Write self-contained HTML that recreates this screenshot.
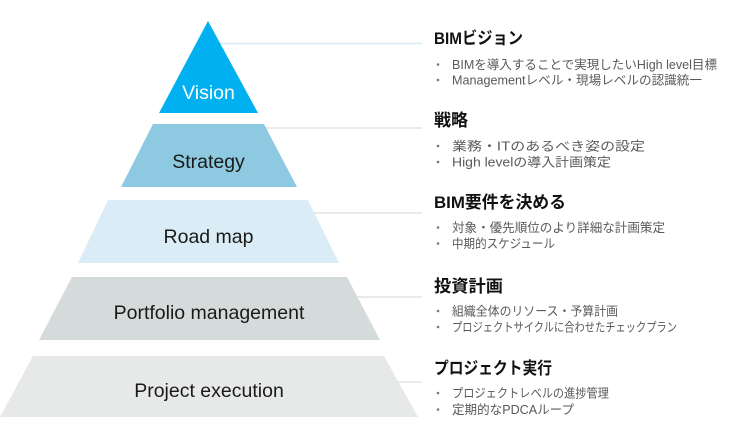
<!DOCTYPE html>
<html>
<head>
<meta charset="utf-8">
<style>
html,body{margin:0;padding:0;background:#fff;}
body{width:729px;height:431px;overflow:hidden;}
svg{display:block;}
text{font-family:"Liberation Sans","Noto Sans CJK JP",sans-serif;}
.lbl{font-size:19.5px;fill:#1a1a1a;text-anchor:middle;}
.hd{font-size:17px;font-weight:bold;fill:#111;}
.bt{font-size:12.5px;fill:#595959;}
</style>
</head>
<body>
<svg width="729" height="431" viewBox="0 0 729 431" xmlns="http://www.w3.org/2000/svg">
  <!-- connector lines -->
  <line x1="210" y1="43.5" x2="422" y2="43.5" stroke="#d3ebf8" stroke-width="1.6"/>
  <line x1="250" y1="128" x2="422" y2="128" stroke="#dedede" stroke-width="1.3"/>
  <line x1="300" y1="213" x2="422" y2="213" stroke="#dedede" stroke-width="1.3"/>
  <line x1="340" y1="297" x2="422" y2="297" stroke="#dedede" stroke-width="1.3"/>
  <line x1="380" y1="382" x2="422" y2="382" stroke="#dedede" stroke-width="1.3"/>

  <!-- pyramid -->
  <polygon points="208,21 258,113 159,113" fill="#00b0f0"/>
  <polygon points="153,124 264,124 297,187 121,187" fill="#8dc9e0"/>
  <polygon points="108,200 308,200 339,263 78,263" fill="#daedf7"/>
  <polygon points="72,277 347,277 380,340 39,340" fill="#d5dbdb"/>
  <polygon points="33,356 384,356 418,417 0,417" fill="#e7e9e9"/>

  <text class="lbl" x="208.5" y="99" style="fill:#fff">Vision</text>
  <text class="lbl" x="208.5" y="168">Strategy</text>
  <text class="lbl" x="208.5" y="243">Road map</text>
  <text class="lbl" x="209" y="319">Portfolio management</text>
  <text class="lbl" x="209" y="397">Project execution</text>

  <!-- right side text -->
  <text class="hd" x="434" y="44" textLength="89" lengthAdjust="spacingAndGlyphs">BIMビジョン</text>
  <circle cx="438" cy="64.5" r="1.3" fill="#777"/>
  <text class="bt" x="452" y="69" textLength="265" lengthAdjust="spacingAndGlyphs">BIMを導入することで実現したいHigh level目標</text>
  <circle cx="438" cy="80" r="1.3" fill="#777"/>
  <text class="bt" x="452" y="84.5" textLength="250" lengthAdjust="spacingAndGlyphs">Managementレベル・現場レベルの認識統一</text>

  <text class="hd" x="434" y="126" textLength="34" lengthAdjust="spacingAndGlyphs">戦略</text>
  <circle cx="438" cy="146" r="1.3" fill="#777"/>
  <text class="bt" x="452" y="150.5" textLength="193" lengthAdjust="spacingAndGlyphs">業務・ITのあるべき姿の設定</text>
  <circle cx="438" cy="162" r="1.3" fill="#777"/>
  <text class="bt" x="452" y="166.5" textLength="159" lengthAdjust="spacingAndGlyphs">High levelの導入計画策定</text>

  <text class="hd" x="434" y="208" textLength="132" lengthAdjust="spacingAndGlyphs">BIM要件を決める</text>
  <circle cx="438" cy="227.5" r="1.3" fill="#777"/>
  <text class="bt" x="452" y="232" textLength="213" lengthAdjust="spacingAndGlyphs">対象・優先順位のより詳細な計画策定</text>
  <circle cx="438" cy="243.5" r="1.3" fill="#777"/>
  <text class="bt" x="452" y="248" textLength="103" lengthAdjust="spacingAndGlyphs">中期的スケジュール</text>

  <text class="hd" x="434" y="292" textLength="69" lengthAdjust="spacingAndGlyphs">投資計画</text>
  <circle cx="438" cy="311" r="1.3" fill="#777"/>
  <text class="bt" x="452" y="315.5" textLength="166" lengthAdjust="spacingAndGlyphs">組織全体のリソース・予算計画</text>
  <circle cx="438" cy="327" r="1.3" fill="#777"/>
  <text class="bt" x="452" y="331.5" textLength="225" lengthAdjust="spacingAndGlyphs">プロジェクトサイクルに合わせたチェックプラン</text>

  <text class="hd" x="434" y="374" textLength="118" lengthAdjust="spacingAndGlyphs">プロジェクト実行</text>
  <circle cx="438" cy="393" r="1.3" fill="#777"/>
  <text class="bt" x="452" y="397.5" textLength="157" lengthAdjust="spacingAndGlyphs">プロジェクトレベルの進捗管理</text>
  <circle cx="438" cy="409.5" r="1.3" fill="#777"/>
  <text class="bt" x="452" y="414" textLength="122" lengthAdjust="spacingAndGlyphs">定期的なPDCAループ</text>
</svg>
</body>
</html>
